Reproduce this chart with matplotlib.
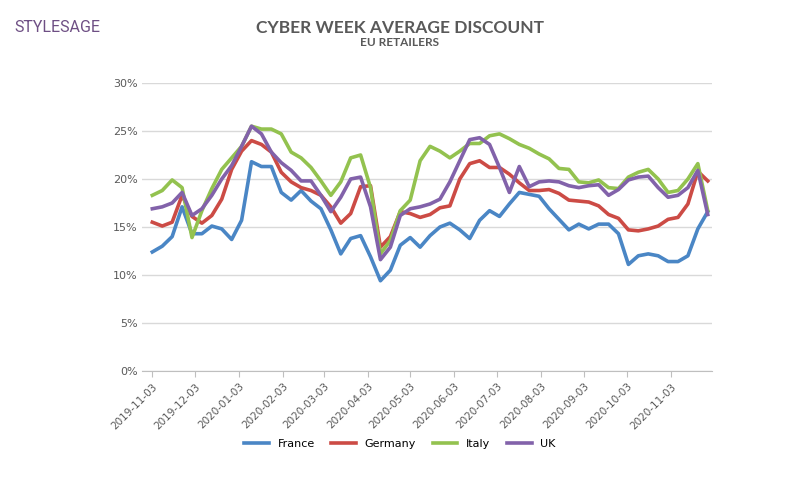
import matplotlib
matplotlib.use("Agg")
import matplotlib.pyplot as plt
import numpy as np
import pandas as pd

dates = pd.date_range("2019-11-03", periods=57, freq="7D")
france = [12.4,13.0,14.0,17.1,14.3,14.3,15.1,14.8,13.7,15.7,21.8,21.3,21.3,18.6,17.8,18.8,17.7,16.9,14.7,12.2,13.8,14.1,11.9,9.4,10.5,13.1,
          13.9,12.9,14.1,15.0,15.4,14.7,13.8,15.7,16.7,16.1,17.4,18.6,18.4,18.2,16.9,15.8,14.7,15.3,14.8,15.3,15.3,14.3,11.1,12.0,12.2,12.0,11.4,11.4,12.0,14.8,16.6]
germany = [15.5,15.1,15.5,18.3,16.1,15.4,16.2,17.9,21.0,22.9,24.0,23.6,22.8,20.7,19.7,19.1,18.8,18.3,17.1,15.4,16.4,19.2,19.3,12.9,14.0,16.6,
           16.4,16.0,16.3,17.0,17.2,20.0,21.6,21.9,21.2,21.2,20.5,19.6,18.8,18.8,18.9,18.5,17.8,17.7,17.6,17.2,16.3,15.9,14.7,14.6,14.8,15.1,15.8,16.0,17.4,20.8,19.8]
italy = [18.3,18.8,19.9,19.1,13.9,16.7,19.0,21.0,22.2,23.4,25.5,25.2,25.2,24.7,22.8,22.2,21.2,19.8,18.3,19.7,22.2,22.5,19.1,12.2,13.6,16.7,
         17.8,21.9,23.4,22.9,22.2,22.9,23.7,23.7,24.5,24.7,24.2,23.6,23.2,22.6,22.1,21.1,21.0,19.7,19.6,19.9,19.1,19.0,20.2,20.7,21.0,20.0,18.6,18.8,20.0,21.6,16.7]
uk = [16.9,17.1,17.5,18.6,16.2,16.9,18.3,20.0,21.4,23.4,25.5,24.7,22.8,21.7,20.9,19.8,19.8,18.3,16.6,18.1,20.0,20.2,17.1,11.6,12.9,16.2,
      16.9,17.1,17.4,17.9,19.7,21.9,24.1,24.3,23.6,21.2,18.6,21.3,19.2,19.7,19.8,19.7,19.3,19.1,19.3,19.4,18.3,18.9,19.9,20.2,20.3,19.1,18.1,18.3,19.1,20.9,16.3]
series_names = ["France", "Germany", "Italy", "UK"]
colors = ["#4a86c5", "#cc4b45", "#93c24f", "#8262aa"]
tick_labels = ["2019-11-03","2019-12-03","2020-01-03","2020-02-03","2020-03-03","2020-04-03",
               "2020-05-03","2020-06-03","2020-07-03","2020-08-03","2020-09-03","2020-10-03","2020-11-03"]

fig = plt.figure(figsize=(8, 5), dpi=100)
ax = fig.add_axes([0.178, 0.258, 0.712, 0.576])
for name, vals, c in zip(series_names, [france, germany, italy, uk], colors):
    ax.plot(dates, np.array(vals) / 100, color=c, lw=2.6, label=name)
ax.set_ylim(0, 0.30)
ax.set_yticks(np.arange(0, 0.31, 0.05))
ax.set_yticklabels([f"{int(round(v*100))}%" for v in np.arange(0, 0.31, 0.05)], fontsize=8, color="#595959")
tdates = pd.to_datetime(tick_labels)
ax.set_xticks(tdates)
ax.set_xticklabels(tick_labels, rotation=45, ha="right", fontsize=7.5, color="#595959", rotation_mode="anchor")
ax.set_xlim(dates[0] - pd.Timedelta(days=7), dates[-1] + pd.Timedelta(days=3))
ax.grid(axis="y", color="#d9d9d9", lw=1)
ax.set_axisbelow(True)
for s in ["top", "right", "left"]:
    ax.spines[s].set_visible(False)
ax.spines["bottom"].set_color("#bfbfbf")
ax.tick_params(axis="y", length=0)
ax.tick_params(axis="x", length=4, color="#bfbfbf")

fig.text(0.5, 0.944, "CYBER WEEK AVERAGE DISCOUNT", ha="center", va="center", fontsize=12.5,
         fontweight="bold", color="#595959", family="Lato")
fig.text(0.5, 0.914, "EU RETAILERS", ha="center", va="center", fontsize=8.5,
         fontweight="bold", color="#595959", family="Lato")
fig.text(0.018, 0.944, "STYLESAGE", ha="left", va="center", fontsize=11.5, color="#6e4f84",
         family="Roboto")
fig.legend(loc="center", bbox_to_anchor=(0.5, 0.112), ncol=4, frameon=False, fontsize=8,
           handlelength=2.2, columnspacing=1.5)
fig.savefig("out.png", dpi=100)
